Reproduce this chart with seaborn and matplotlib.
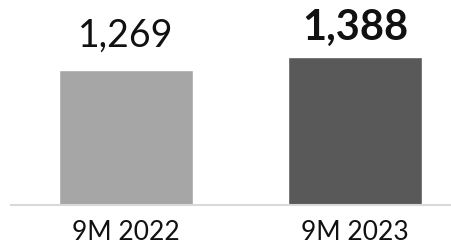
import matplotlib
matplotlib.use("Agg")
import matplotlib.pyplot as plt
import seaborn as sns

periods = ["9M 2022", "9M 2023"]
values = [1269, 1388]
labels = ["1,269", "1,388"]
weights = ["normal", "bold"]
sizes = [27, 30]
colors = ["#a6a6a6", "#595959"]
label_gap = [16.5, 12.5]

sns.set_style("white")
plt.rcParams["font.family"] = ["Lato", "DejaVu Sans"]

fig = plt.figure(figsize=(4.52, 2.45), dpi=100)
ax = fig.add_axes([11 / 452, 40 / 245, 441 / 452, 205 / 245])

sns.barplot(x=periods, y=values, hue=periods, palette=colors, legend=False,
            width=0.585, saturation=1, ax=ax)

for i, (v, lab, w, g, fs) in enumerate(zip(values, labels, weights, label_gap, sizes)):
    ax.annotate(lab, (i, v), xytext=(0, g), textcoords="offset points",
                ha="center", va="baseline", fontsize=fs, fontweight=w,
                color="#111111")

ax.set_xlim(-0.502, 1.424)
ax.set_ylim(0, 1927)
ax.set_yticks([])
ax.set_ylabel("")
for s in ["top", "right", "left"]:
    ax.spines[s].set_visible(False)
ax.spines["bottom"].set_color("#d9d9d9")
ax.spines["bottom"].set_linewidth(1.5)
ax.tick_params(axis="x", length=0, pad=11, labelsize=19, labelcolor="#111111")

fig.savefig("out.png", dpi=100)
